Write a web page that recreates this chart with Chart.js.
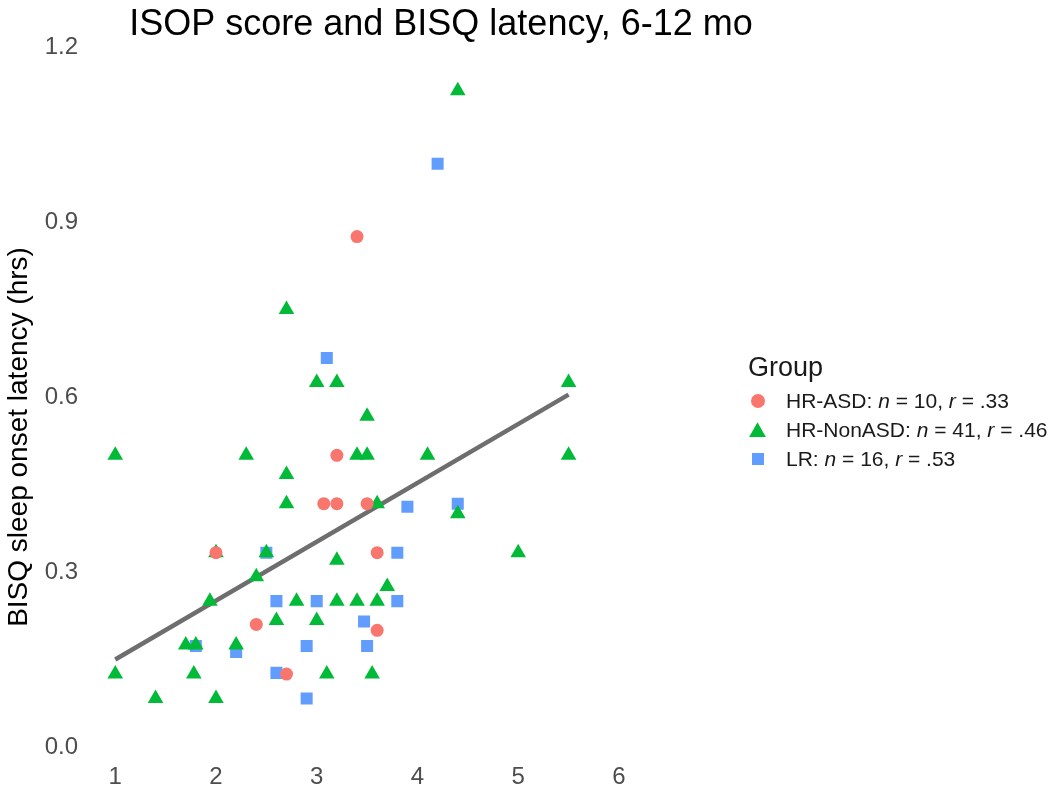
<!DOCTYPE html>
<html>
<head>
<meta charset="utf-8">
<script src="https://cdn.jsdelivr.net/npm/chart.js@4.4.0/dist/chart.umd.min.js"></script>
<style>
  body { margin: 0; background: #fff; }
  #wrap { position: relative; width: 1050px; height: 811px; overflow: hidden; }
  #chart { position: absolute; left: 0; top: 0; }
  #legend {
    position: absolute; left: 748px; top: 349px; white-space: nowrap;
    font-family: "Liberation Sans", Arial, sans-serif; color: #1a1a1a;
  }
  #legend .ttl { font-size: 27px; line-height: 36px; margin-bottom: 2px; }
  #legend .row { height: 28.8px; display: flex; align-items: center; font-size: 21px; }
  #legend .sym { width: 20px; height: 20px; margin-right: 18px; position: relative; }
  #legend .sym i { position: absolute; display: block; }
  #legend em { font-style: italic; }
</style>
</head>
<body>
<div id="wrap">
  <canvas id="chart" width="882" height="811"></canvas>
  <div id="legend"></div>
</div>
<script>
// groups
const groupNames = ["HR-ASD", "HR-NonASD", "LR"];
const groupN = [10, 41, 16];
const groupR = [".33", ".46", ".53"];
const groupColors = ["#F8766D", "#00BA38", "#619CFF"];

// HR-ASD
const asdX = [3.4, 3.2, 3.07, 3.2, 3.5, 2.0, 3.6, 2.4, 3.6, 2.7];
const asdY = [0.875, 0.5, 0.417, 0.417, 0.417, 0.333, 0.333, 0.21, 0.2, 0.125];

// HR-NonASD
const nonX = [1.0, 2.3, 3.4, 3.5, 4.1, 2.7, 3.0, 3.2, 3.5, 2.7, 2.7, 3.6, 4.4, 2.0, 2.5, 3.2, 2.4, 3.7, 1.94,
  2.8, 3.2, 3.4, 3.6, 2.6, 3.0, 1.7, 1.8, 2.2, 1.0, 1.78, 3.1, 3.55, 1.4, 2.0, 4.4, 5.0, 5.5, 5.5];
const nonY = [0.5, 0.5, 0.5, 0.5, 0.5, 0.75, 0.625, 0.625, 0.567, 0.467, 0.417, 0.417, 0.4, 0.333, 0.333, 0.32,
  0.292, 0.275, 0.25, 0.25, 0.25, 0.25, 0.25, 0.217, 0.217, 0.175, 0.175, 0.175, 0.125, 0.125, 0.125, 0.125,
  0.083, 0.083, 1.125, 0.333, 0.625, 0.5];

// LR
const lrX = [4.2, 3.1, 3.9, 4.4, 2.5, 3.8, 2.6, 3.0, 3.8, 3.47, 1.8, 2.2, 2.9, 3.5, 2.6, 2.9];
const lrY = [1.0, 0.667, 0.412, 0.417, 0.333, 0.333, 0.25, 0.25, 0.25, 0.215, 0.173, 0.163, 0.173, 0.173, 0.127, 0.083];

// overall fit line (end points)
const fitX = [1, 5.5];
const fitY = [0.15, 0.604];

const xTicks = [1, 2, 3, 4, 5, 6];
const yTicks = [0.0, 0.3, 0.6, 0.9, 1.2];
const yTitle = "BISQ sleep onset latency (hrs)";

const pts = (xs, ys) => xs.map((x, i) => ({ x: x, y: ys[i] }));
const font = '"Liberation Sans", Arial, sans-serif';

// y axis title, drawn a bit lower than the chart area middle like the original
const yLabelPlugin = {
  id: "yLabel",
  afterDraw(chart) {
    const c = chart.ctx;
    c.save();
    c.translate(19, 437);
    c.rotate(-Math.PI / 2);
    c.font = "28px " + font;
    c.fillStyle = "#000";
    c.textAlign = "center";
    c.textBaseline = "middle";
    c.fillText(yTitle, 0, 0);
    c.restore();
  }
};

const ctx = document.getElementById("chart").getContext("2d");
new Chart(ctx, {
  type: "scatter",
  data: {
    datasets: [
      { label: groupNames[0], data: pts(asdX, asdY), pointStyle: "circle", pointRadius: 6.5,
        backgroundColor: groupColors[0], borderWidth: 0 },
      { label: groupNames[1], data: pts(nonX, nonY), pointStyle: "triangle", pointRadius: 9,
        backgroundColor: groupColors[1], borderWidth: 0 },
      { label: groupNames[2], data: pts(lrX, lrY), pointStyle: "rect", pointRadius: 8.5,
        backgroundColor: groupColors[2], borderWidth: 0 },
      { label: "fit", data: pts(fitX, fitY), showLine: true, pointRadius: 0,
        borderColor: "#6e6e6e", borderWidth: 4.5, fill: false }
    ]
  },
  options: {
    responsive: false,
    animation: false,
    layout: { padding: 0 },
    plugins: {
      legend: { display: false },
      tooltip: { enabled: false },
      title: {
        display: true,
        text: "ISOP score and BISQ latency, 6-12 mo",
        color: "#000",
        font: { family: font, size: 36, weight: "normal", lineHeight: 1.15 },
        padding: { top: 4, bottom: 0 }
      }
    },
    scales: {
      x: {
        type: "linear", min: 0.8, max: 8.522,
        grid: { display: false }, border: { display: false },
        afterBuildTicks: (s) => { s.ticks = xTicks.map(v => ({ value: v })); },
        afterFit: (s) => { s.height = 58.2; },
        ticks: { color: "#4d4d4d", padding: 2, font: { family: font, size: 24 } }
      },
      y: {
        type: "linear", min: -0.01, max: 1.2027,
        grid: { display: false }, border: { display: false },
        afterBuildTicks: (s) => { s.ticks = yTicks.map(v => ({ value: v })); },
        afterFit: (s) => { s.width = 95.1; },
        ticks: { color: "#4d4d4d", padding: 9, font: { family: font, size: 24 },
          callback: (v) => Number(v).toFixed(1) }
      }
    }
  },
  plugins: [yLabelPlugin]
});

// legend as html text (italic n and r)
const legend = document.getElementById("legend");
const ttl = document.createElement("div");
ttl.className = "ttl";
ttl.textContent = "Group";
legend.appendChild(ttl);
const shapes = [
  "left:3px;top:3px;width:14px;height:14px;border-radius:50%;",
  "left:1px;top:2px;width:17px;height:15px;clip-path:polygon(50% 0,100% 100%,0 100%);",
  "left:4px;top:4px;width:12px;height:12px;"
];
groupNames.forEach((g, i) => {
  const row = document.createElement("div");
  row.className = "row";
  row.innerHTML = '<span class="sym"><i style="' + shapes[i] + 'background:' + groupColors[i] + '"></i></span>' +
    '<span>' + g + ': <em>n</em> = ' + groupN[i] + ', <em>r</em> = ' + groupR[i] + '</span>';
  legend.appendChild(row);
});
</script>
</body>
</html>
